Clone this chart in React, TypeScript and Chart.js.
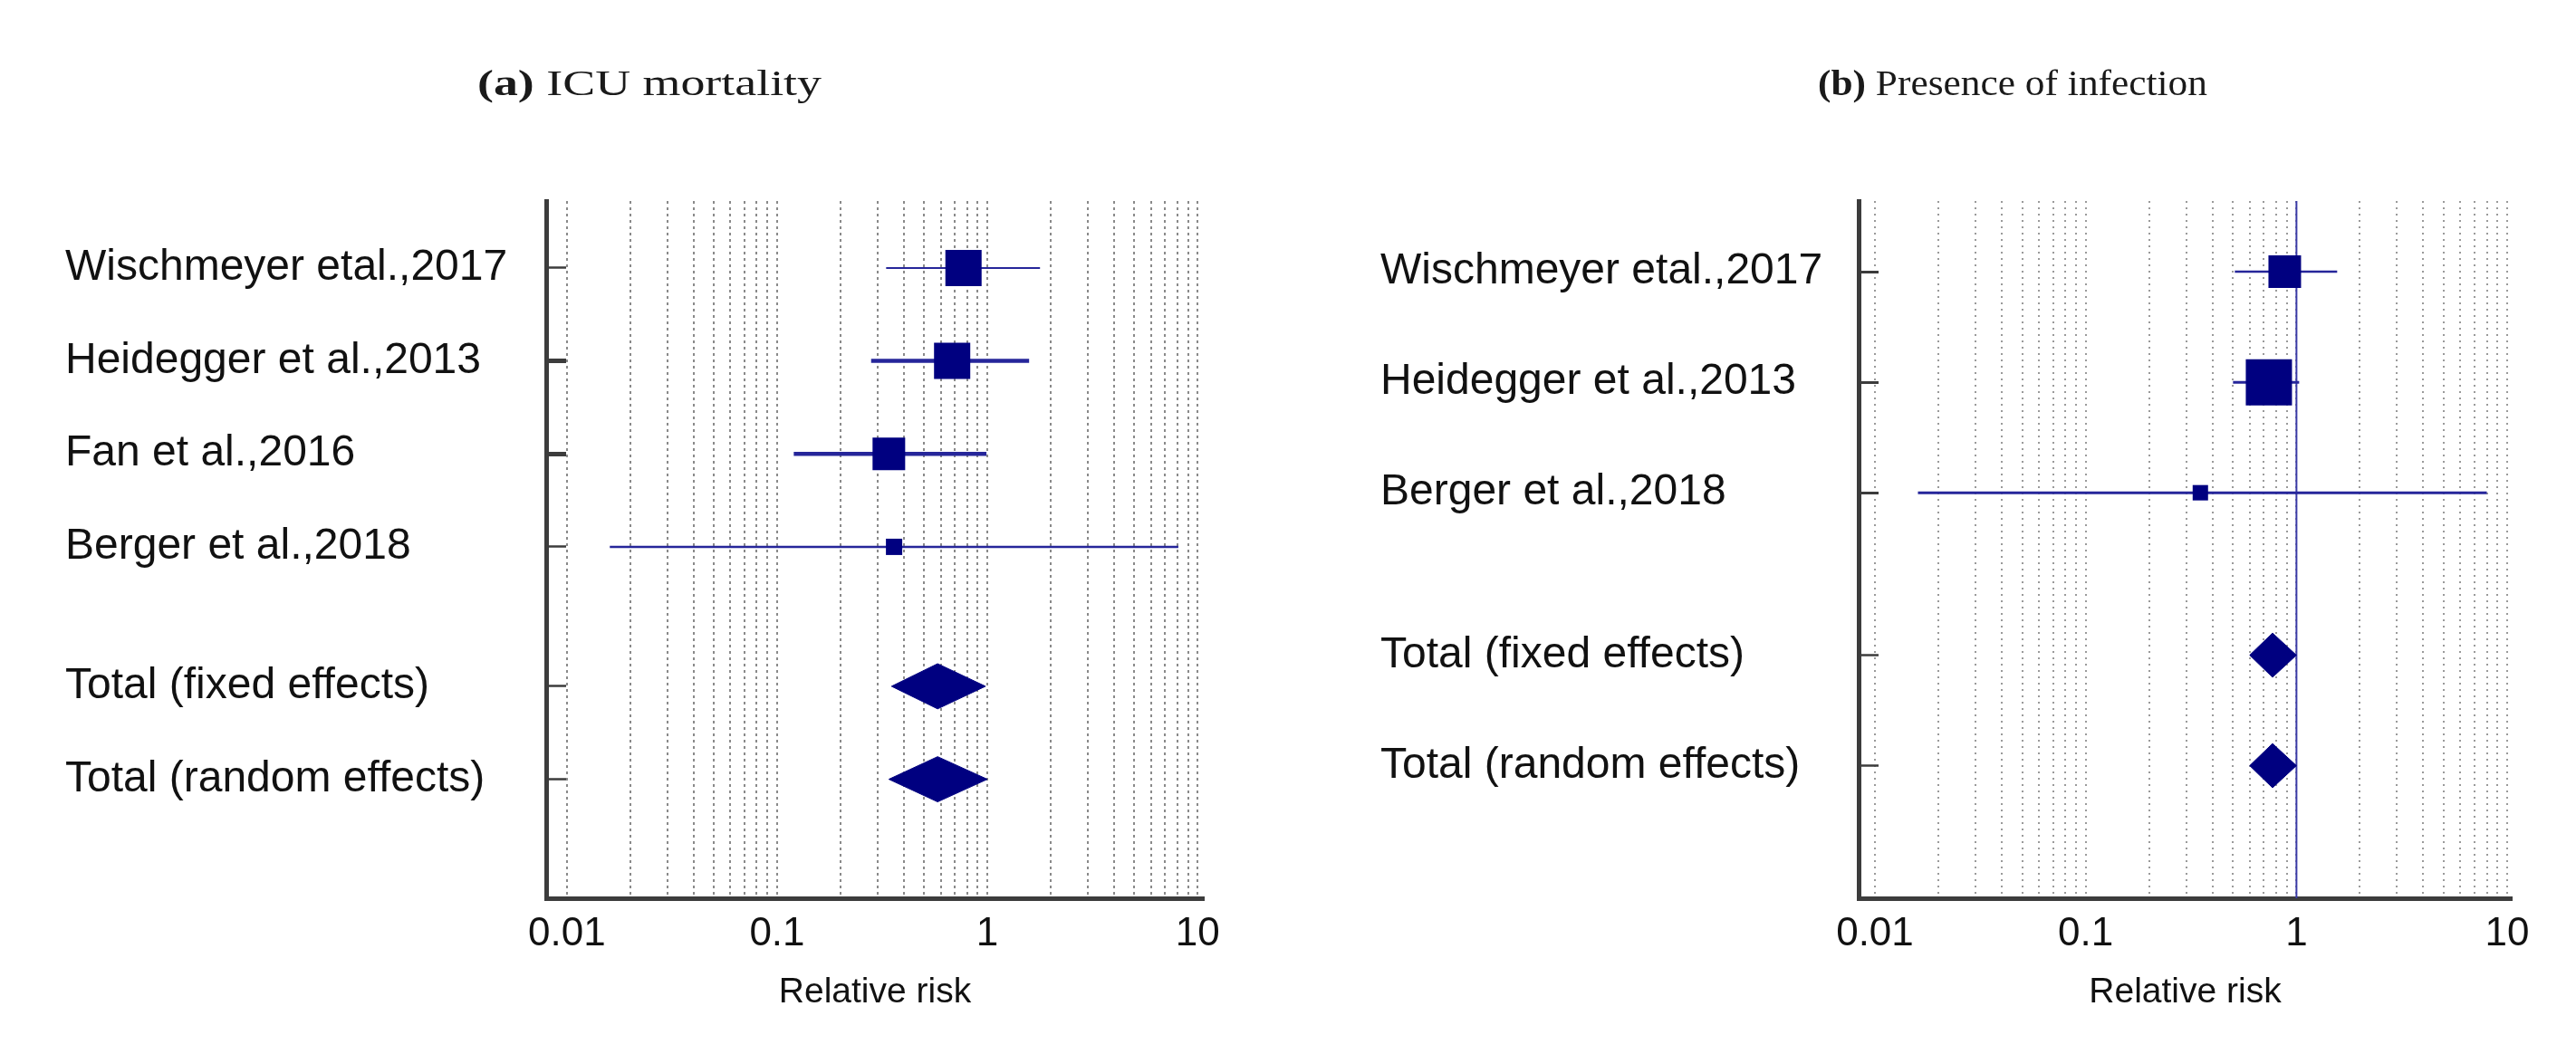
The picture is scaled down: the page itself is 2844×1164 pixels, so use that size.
import React, { useEffect, useRef } from "react";
import { Chart, registerables } from "chart.js";

Chart.register(...registerables);

// ---------- data ----------
const titleBoldA = "(a)";
const titleRestA = " ICU mortality";
const studiesA = ["Wischmeyer etal.,2017", "Heidegger et al.,2013", "Fan et al.,2016", "Berger et al.,2018"];
const rrA = [0.77, 0.68, 0.34, 0.36];
const lowA = [0.33, 0.28, 0.12, 0.016];
const highA = [1.78, 1.58, 0.99, 8.1];
const totalLabelsA = ["Total (fixed effects)", "Total (random effects)"];
const totalRrA = [0.58, 0.58];
const totalLowA = [0.35, 0.34];
const totalHighA = [0.98, 1.0];

const titleBoldB = "(b)";
const titleRestB = " Presence of infection";
const studiesB = ["Wischmeyer etal.,2017", "Heidegger et al.,2013", "Berger et al.,2018"];
const rrB = [0.88, 0.74, 0.35];
const lowB = [0.51, 0.5, 0.016];
const highB = [1.56, 1.03, 8.0];
const totalLabelsB = ["Total (fixed effects)", "Total (random effects)"];
const totalRrB = [0.77, 0.77];
const totalLowB = [0.6, 0.6];
const totalHighB = [1.0, 1.0];

const xTickValues = [
  0.01, 0.02, 0.03, 0.04, 0.05, 0.06, 0.07, 0.08, 0.09,
  0.1, 0.2, 0.3, 0.4, 0.5, 0.6, 0.7, 0.8, 0.9,
  1, 2, 3, 4, 5, 6, 7, 8, 9, 10,
];
const xTickLabels = ["0.01", "0.1", "1", "10"];
const xAxisTitle = "Relative risk";

// ---------- layout / style ----------
const W = 1422;
const H = 1164;
const SANS = '"Liberation Sans", Arial, sans-serif';
const NAVY = "#000080";
const CI_COLOR = "#26269a";
const AXIS = "#3c3c3c";

type Layout = {
  rows: number[];
  yMin: number;
  yMax: number;
  xMin: number;
  xMax: number;
  padLeft: number;
  axisX: number;
  padRight: number;
  titleX: number;
  titleW: number;
  squareSides: number[];
  ciWidths: number[];
  tickWidths: number[];
  diamondHalf: number;
  refLine: boolean;
  gridDash: number[];
  gridColor: string;
};

type Panel = {
  titleBold: string;
  titleRest: string;
  labels: string[];
  est: number[];
  low: number[];
  high: number[];
  totalLabels: string[];
  totalEst: number[];
  totalLow: number[];
  totalHigh: number[];
  layout: Layout;
};

const panelA: Panel = {
  titleBold: titleBoldA,
  titleRest: titleRestA,
  labels: studiesA,
  est: rrA,
  low: lowA,
  high: highA,
  totalLabels: totalLabelsA,
  totalEst: totalRrA,
  totalLow: totalLowA,
  totalHigh: totalHighA,
  layout: {
    rows: [0, 1, 2, 3, 4.5, 5.5],
    yMin: -0.72,
    yMax: 6.78,
    xMin: 0.00797,
    xMax: 10.7,
    padLeft: 72,
    axisX: 603,
    padRight: W - 1329,
    titleX: 717,
    titleW: 380,
    squareSides: [40, 40, 36, 18],
    ciWidths: [2, 4.5, 4.5, 2.5],
    tickWidths: [2.5, 5, 5, 2.5, 2.5, 2.5],
    diamondHalf: 0.243,
    refLine: false,
    gridDash: [3, 4],
    gridColor: "#8a8a8a",
  },
};

const panelB: Panel = {
  titleBold: titleBoldB,
  titleRest: titleRestB,
  labels: studiesB,
  est: rrB,
  low: lowB,
  high: highB,
  totalLabels: totalLabelsB,
  totalEst: totalRrB,
  totalLow: totalLowB,
  totalHigh: totalHighB,
  layout: {
    rows: [0, 1, 2, 3.47, 4.47],
    yMin: -0.64,
    yMax: 5.67,
    xMin: 0.00837,
    xMax: 10.5,
    padLeft: 1524 - W,
    axisX: 2052 - W,
    padRight: 2844 - 2773,
    titleX: 2222 - W,
    titleW: 430,
    squareSides: [36, 51, 17],
    ciWidths: [2.5, 3, 3],
    tickWidths: [3, 3, 3, 2.5, 2.5],
    diamondHalf: 0.2,
    refLine: true,
    gridDash: [2, 5],
    gridColor: "#9a9a9a",
  },
};

const titlePlugin = {
  id: "panelTitle",
  afterDraw(chart: any, _args: any, opts: any) {
    const ctx = chart.ctx as CanvasRenderingContext2D;
    ctx.save();
    const boldFont = `bold ${opts.size}px "Liberation Serif", "Times New Roman", serif`;
    const normFont = `${opts.size}px "Liberation Serif", "Times New Roman", serif`;
    ctx.font = boldFont;
    const w1 = ctx.measureText(opts.bold).width;
    ctx.font = normFont;
    const w2 = ctx.measureText(opts.rest).width;
    const w = w1 + w2;
    const s = opts.width / w;
    ctx.translate(opts.x, opts.y);
    ctx.scale(s, 1);
    ctx.textBaseline = "middle";
    ctx.textAlign = "left";
    ctx.fillStyle = opts.color;
    ctx.font = boldFont;
    ctx.fillText(opts.bold, -w / 2, 0);
    ctx.font = normFont;
    ctx.fillText(opts.rest, -w / 2 + w1, 0);
    ctx.restore();
  },
};

function buildChart(canvas: HTMLCanvasElement, p: Panel) {
  const L = p.layout;
  const nS = p.labels.length;
  const allLabels = [...p.labels, ...p.totalLabels];
  const datasets: any[] = [];

  datasets.push({
    label: "studies",
    data: p.est.map((v, i) => ({ x: v, y: L.rows[i] })),
    pointStyle: "rect",
    pointRadius: L.squareSides.map((s) => s / Math.SQRT2),
    pointHoverRadius: L.squareSides.map((s) => s / Math.SQRT2),
    backgroundColor: NAVY,
    borderColor: NAVY,
    borderWidth: 0,
    order: 0,
  });

  p.totalEst.forEach((e, i) => {
    const r = L.rows[nS + i];
    datasets.push({
      label: p.totalLabels[i],
      data: [
        { x: p.totalLow[i], y: r },
        { x: e, y: r - L.diamondHalf },
        { x: p.totalHigh[i], y: r },
        { x: e, y: r + L.diamondHalf },
        { x: p.totalLow[i], y: r },
      ],
      showLine: true,
      fill: "shape",
      tension: 0,
      backgroundColor: NAVY,
      borderColor: NAVY,
      borderWidth: 1,
      pointRadius: 0,
      pointHoverRadius: 0,
      order: 0,
    });
  });

  p.est.forEach((_, i) => {
    datasets.push({
      label: p.labels[i] + " CI",
      data: [
        { x: p.low[i], y: L.rows[i] },
        { x: p.high[i], y: L.rows[i] },
      ],
      showLine: true,
      fill: false,
      borderColor: CI_COLOR,
      borderWidth: L.ciWidths[i],
      pointRadius: 0,
      pointHoverRadius: 0,
      order: 1,
    });
  });

  if (L.refLine) {
    datasets.push({
      label: "no effect",
      data: [
        { x: 1, y: L.yMin },
        { x: 1, y: L.yMax },
      ],
      showLine: true,
      fill: false,
      borderColor: "#3a3aa6",
      borderWidth: 2,
      pointRadius: 0,
      pointHoverRadius: 0,
      order: 2,
    });
  }

  return new Chart(canvas, {
    type: "scatter",
    data: { datasets },
    plugins: [titlePlugin as any],
    options: {
      animation: false,
      responsive: false,
      events: [],
      layout: {
        padding: { left: L.padLeft, right: L.padRight, top: 222, bottom: 0 },
      },
      plugins: {
        legend: { display: false },
        tooltip: { enabled: false },
        title: { display: false },
        panelTitle: {
          bold: p.titleBold,
          rest: p.titleRest,
          x: L.titleX,
          y: 94,
          width: L.titleW,
          size: 41,
          color: "#1a1a1a",
        },
      } as any,
      scales: {
        x: {
          type: "logarithmic",
          min: L.xMin,
          max: L.xMax,
          afterBuildTicks: (s: any) => {
            s.ticks = xTickValues.map((v) => ({ value: v, major: false }));
          },
          afterFit: (s: any) => {
            s.height = H - 992;
          },
          ticks: {
            autoSkip: false,
            maxRotation: 0,
            minRotation: 0,
            padding: 13,
            color: "#111",
            font: { family: SANS, size: 44 },
            callback: (value: any) => {
              const str = String(value);
              return xTickLabels.includes(str) ? str : "";
            },
          },
          grid: {
            display: true,
            drawOnChartArea: true,
            drawTicks: false,
            color: L.gridColor,
            lineWidth: 2,
          },
          border: { display: true, color: AXIS, width: 5, dash: L.gridDash },
          title: {
            display: true,
            text: xAxisTitle,
            color: "#111",
            font: { family: SANS, size: 39 },
            padding: { top: 0, bottom: 44 },
          },
        } as any,
        y: {
          type: "linear",
          reverse: true,
          min: L.yMin,
          max: L.yMax,
          afterBuildTicks: (s: any) => {
            s.ticks = L.rows.map((v) => ({ value: v }));
          },
          afterFit: (s: any) => {
            s.width = L.axisX - L.padLeft;
          },
          ticks: {
            autoSkip: false,
            crossAlign: "far",
            padding: 0,
            color: "#111",
            font: { family: SANS, size: 48 },
            callback: (_v: any, i: number) => allLabels[i],
          },
          grid: {
            display: true,
            drawOnChartArea: false,
            drawTicks: true,
            tickLength: -22,
            tickColor: AXIS,
            tickWidth: (c: any) => L.tickWidths[c.index] ?? 2.5,
          },
          border: { display: true, color: AXIS, width: 5 },
        } as any,
      },
    },
  });
}

function PanelChart({ panel, left }: { panel: Panel; left: number }) {
  const ref = useRef<HTMLCanvasElement>(null);
  useEffect(() => {
    if (!ref.current) return;
    const chart = buildChart(ref.current, panel);
    return () => chart.destroy();
  }, [panel]);
  return (
    <canvas
      ref={ref}
      width={W}
      height={H}
      style={{ position: "absolute", left, top: 0, width: W, height: H, display: "block" }}
    />
  );
}

export default function App() {
  return (
    <div
      style={{
        position: "absolute",
        left: 0,
        top: 0,
        width: 2844,
        height: H,
        background: "#ffffff",
        overflow: "hidden",
      }}
    >
      <PanelChart panel={panelA} left={0} />
      <PanelChart panel={panelB} left={W} />
    </div>
  );
}
